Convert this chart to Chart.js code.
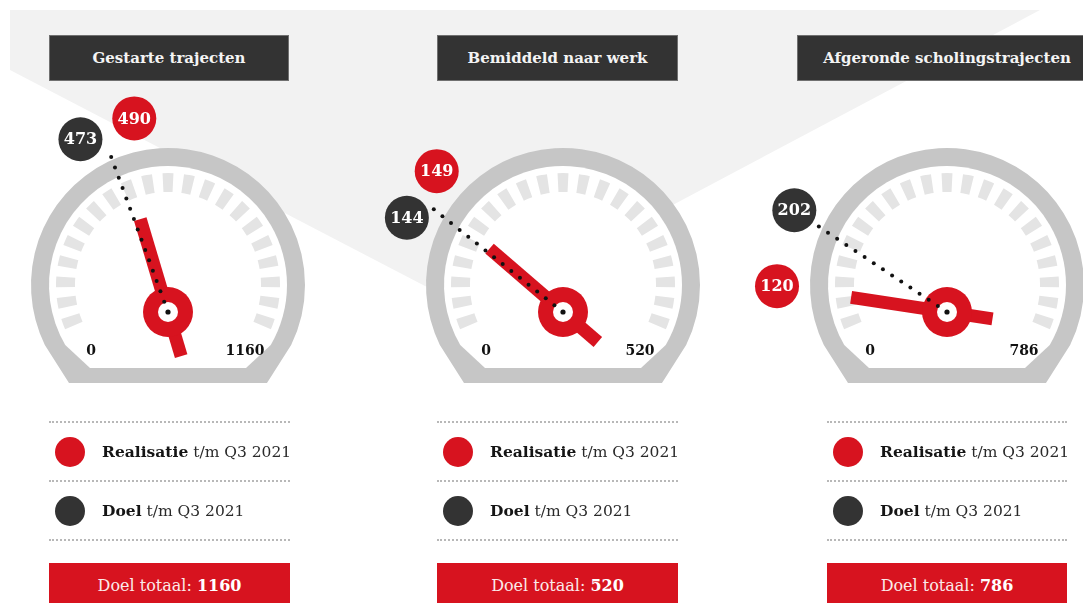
<!DOCTYPE html>
<html><head><meta charset="utf-8">
<script src="https://cdn.jsdelivr.net/npm/chart.js@4/dist/chart.umd.min.js"></script>
<style>
html,body{margin:0;padding:0;background:#fff;width:1083px;height:603px;overflow:hidden;font-family:"DejaVu Serif",serif;}
#bg{position:absolute;left:0;top:0;width:1083px;height:603px;background:#f2f2f2;clip-path:polygon(10px 10px,1040px 10px,473px 311px,10px 70px);}
.title{position:absolute;top:35px;height:46px;background:#333;border:1px solid #707070;box-sizing:border-box;color:#f4f4f4;font-weight:bold;font-size:15px;display:flex;align-items:center;justify-content:center;white-space:nowrap;}
.leg{position:absolute;top:421px;}
.sep{height:0;border-top:2px dotted #b8b8b8;}
.row{height:57px;display:flex;align-items:center;font-size:15.5px;color:#2a2a2a;white-space:nowrap;}
.row b{color:#151515;}
.dot{width:30px;height:30px;border-radius:50%;margin-left:6px;margin-right:17px;flex:none;}
.total{position:absolute;top:563px;height:44px;background:#d7131f;color:#fbeaea;font-size:16px;display:flex;align-items:center;justify-content:center;white-space:nowrap;}
.total b{color:#fff;}
.gw{position:absolute;}
</style></head>
<body>
<div id="bg"></div>
<script>
// ---- data ----
const categories = ["Gestarte trajecten", "Bemiddeld naar werk", "Afgeronde scholingstrajecten"];
const realisatie = [490, 149, 120];
const doel = [473, 144, 202];
const doelTotaal = [1160, 520, 786];
const scaleMin = [0, 0, 0];
const seriesNames = ["Realisatie", "Doel"];
const periodLabel = "t/m Q3 2021";
const totalLabel = "Doel totaal:";

// ---- layout / style ----
const LAYOUT = {
  cx: [168, 563, 947], cy: 285,
  titleX: [49, 437, 797], titleW: [240, 241, 300],
  legX: [49, 437, 827], legW: [241, 241, 240]
};
const RED = '#d7131f', DARK = '#333333';
const SWEEP = 240, ROT = -118;           // value scale of the gauge
const DASH_COUNT = 21, DASH_DEG = 5.6, GAP_DEG = 5.45;
const DASH_SWEEP = DASH_COUNT * DASH_DEG + (DASH_COUNT - 1) * GAP_DEG;
const PIVOT_DY = 27, LABEL_R = 170, MIN_SEP = 17 * Math.PI / 180;
const CW = 400, CH = 420;
const FONT = '"DejaVu Serif", serif';

const dashData = [], dashColors = [];
for (let k = 0; k < DASH_COUNT * 2 - 1; k++) {
  dashData.push(k % 2 === 0 ? DASH_DEG : GAP_DEG);
  dashColors.push(k % 2 === 0 ? '#e4e4e4' : 'rgba(0,0,0,0)');
}

const housingPlugin = {
  id: 'housing',
  beforeDatasetsDraw(chart) {
    const ctx = chart.ctx;
    const el = chart.getDatasetMeta(0).data[0];
    const cx = el.x, cy = el.y;
    ctx.save();
    const oa = Math.asin(60 / 137);
    ctx.beginPath();
    ctx.moveTo(cx - 99, cy + 98);
    ctx.arc(cx, cy, 137, Math.PI - oa, 2 * Math.PI + oa, false);
    ctx.lineTo(cx + 99, cy + 98);
    ctx.closePath();
    ctx.fillStyle = '#c6c6c6';
    ctx.fill();
    const oi = Math.asin(60 / 119);
    ctx.beginPath();
    ctx.moveTo(cx - 78, cy + 83);
    ctx.arc(cx, cy, 119, Math.PI - oi, 2 * Math.PI + oi, false);
    ctx.lineTo(cx + 78, cy + 83);
    ctx.closePath();
    ctx.fillStyle = '#ffffff';
    ctx.fill();
    ctx.restore();
  }
};

function needlePlugin(i) {
  return {
    id: 'needle' + i,
    afterDatasetsDraw(chart) {
      const ctx = chart.ctx;
      const arcR = chart.getDatasetMeta(1).data[0];
      const arcD = chart.getDatasetMeta(2).data[0];
      const cx = arcR.x, cy = arcR.y;
      const px = cx, py = cy + PIVOT_DY;
      const aR = arcR.endAngle, aD = arcD.endAngle;
      ctx.save();
      // needle
      const ux = Math.cos(aR), uy = Math.sin(aR);
      ctx.strokeStyle = RED; ctx.lineWidth = 13; ctx.lineCap = 'butt';
      ctx.beginPath();
      ctx.moveTo(px - 46 * ux, py - 46 * uy);
      ctx.lineTo(px + 97 * ux, py + 97 * uy);
      ctx.stroke();
      ctx.fillStyle = RED;
      ctx.beginPath(); ctx.arc(px, py, 25, 0, Math.PI * 2); ctx.fill();
      ctx.fillStyle = '#fff';
      ctx.beginPath(); ctx.arc(px, py, 10, 0, Math.PI * 2); ctx.fill();
      // dotted target line
      const vx = Math.cos(aD), vy = Math.sin(aD);
      ctx.fillStyle = '#111';
      for (let d = 11; d <= 166; d += 11) {
        ctx.beginPath(); ctx.arc(px + d * vx, py + d * vy, 2, 0, Math.PI * 2); ctx.fill();
      }
      ctx.beginPath(); ctx.arc(px, py, 2.6, 0, Math.PI * 2); ctx.fill();
      // labels (spread apart when close)
      let lR = aR, lD = aD;
      if (Math.abs(aR - aD) < MIN_SEP) {
        const mid = (aR + aD) / 2, s = aR >= aD ? 1 : -1;
        lR = mid + s * MIN_SEP / 2; lD = mid - s * MIN_SEP / 2;
      }
      const place = (a) => {
        const ux2 = Math.cos(a), uy2 = Math.sin(a);
        const b = PIVOT_DY * uy2;
        const t = -b + Math.sqrt(b * b - PIVOT_DY * PIVOT_DY + LABEL_R * LABEL_R);
        return [px + t * ux2, py + t * uy2];
      };
      const drawLabel = (a, val, col) => {
        const [lx, ly] = place(a);
        ctx.fillStyle = col;
        ctx.beginPath(); ctx.arc(lx, ly, 22, 0, Math.PI * 2); ctx.fill();
        ctx.fillStyle = '#fff';
        ctx.font = 'bold 16px ' + FONT;
        ctx.textAlign = 'center'; ctx.textBaseline = 'middle';
        ctx.fillText(String(val), lx, ly + 1);
      };
      drawLabel(lD, doel[i], DARK);
      drawLabel(lR, realisatie[i], RED);
      // scale ends
      ctx.fillStyle = '#111';
      ctx.font = 'bold 14px ' + FONT;
      ctx.textAlign = 'center'; ctx.textBaseline = 'middle';
      ctx.fillText(String(scaleMin[i]), cx - 77, cy + 66);
      ctx.fillText(String(doelTotaal[i]), cx + 77, cy + 66);
      ctx.restore();
    }
  };
}

categories.forEach((cat, i) => {
  const cx = LAYOUT.cx[i];
  const max = doelTotaal[i];

  const t = document.createElement('div');
  t.className = 'title';
  t.style.left = LAYOUT.titleX[i] + 'px';
  t.style.width = LAYOUT.titleW[i] + 'px';
  t.textContent = cat;
  document.body.appendChild(t);

  const wrap = document.createElement('div');
  wrap.className = 'gw';
  wrap.style.left = (cx - CW / 2) + 'px';
  wrap.style.top = (LAYOUT.cy - CH / 2) + 'px';
  wrap.style.width = CW + 'px';
  wrap.style.height = CH + 'px';
  const c = document.createElement('canvas');
  c.width = CW; c.height = CH;
  c.style.width = CW + 'px'; c.style.height = CH + 'px';
  wrap.appendChild(c);
  document.body.appendChild(wrap);

  new Chart(c, {
    type: 'doughnut',
    data: {
      labels: dashData.map((_, k) => 'k' + k),
      datasets: [
        { label: 'frame', data: [1], weight: 0, backgroundColor: 'rgba(0,0,0,0)', borderWidth: 0, rotation: 0, circumference: 360 },
        { label: seriesNames[0], data: [realisatie[i], max - realisatie[i]], weight: 0, backgroundColor: 'rgba(0,0,0,0)', borderWidth: 0, rotation: ROT, circumference: SWEEP },
        { label: seriesNames[1], data: [doel[i], max - doel[i]], weight: 0, backgroundColor: 'rgba(0,0,0,0)', borderWidth: 0, rotation: ROT, circumference: SWEEP },
        { label: 'schaal', data: dashData, weight: 1, backgroundColor: dashColors, borderWidth: 0, rotation: -DASH_SWEEP / 2, circumference: DASH_SWEEP }
      ]
    },
    options: {
      responsive: false, animation: false, events: [],
      radius: 112, cutout: (93 / 112 * 100) + '%',
      layout: { padding: 0 },
      plugins: { legend: { display: false }, tooltip: { enabled: false } }
    },
    plugins: [housingPlugin, needlePlugin(i)]
  });

  const leg = document.createElement('div');
  leg.className = 'leg';
  leg.style.left = LAYOUT.legX[i] + 'px';
  leg.style.width = LAYOUT.legW[i] + 'px';
  leg.innerHTML =
    '<div class="sep"></div>' +
    '<div class="row"><span class="dot" style="background:' + RED + '"></span><span><b>' + seriesNames[0] + '</b> ' + periodLabel + '</span></div>' +
    '<div class="sep"></div>' +
    '<div class="row"><span class="dot" style="background:' + DARK + '"></span><span><b>' + seriesNames[1] + '</b> ' + periodLabel + '</span></div>' +
    '<div class="sep"></div>';
  document.body.appendChild(leg);

  const tot = document.createElement('div');
  tot.className = 'total';
  tot.style.left = LAYOUT.legX[i] + 'px';
  tot.style.width = LAYOUT.legW[i] + 'px';
  tot.innerHTML = totalLabel + '&nbsp;<b>' + max + '</b>';
  document.body.appendChild(tot);
});
</script>
</body></html>
